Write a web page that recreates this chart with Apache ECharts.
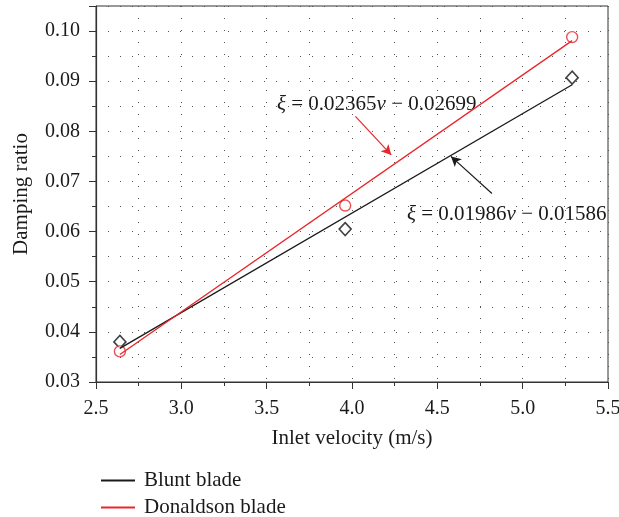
<!DOCTYPE html>
<html>
<head>
<meta charset="utf-8">
<script src="https://cdn.jsdelivr.net/npm/echarts@6/dist/echarts.min.js"></script>
<style>
  html, body { margin: 0; padding: 0; background: #fff; }
  #chart { width: 619px; height: 517px; }
</style>
</head>
<body>
<div id="chart"></div>
<script>
// measured points
var bluntPoints = [[2.64, 0.0380], [3.96, 0.0605], [5.29, 0.0907]];
var donaldsonPoints = [[2.64, 0.0361], [3.96, 0.0652], [5.29, 0.0988]];
// fitted lines, end points
var bluntFit = [[2.64, 0.0367], [5.29, 0.0893]];
var donaldsonFit = [[2.64, 0.0355], [5.29, 0.0981]];
// annotation arrows (start, end) in data units
var redArrow = [[4.02, 0.0830], [4.23, 0.0753]];
var blackArrow = [[4.82, 0.0676], [4.58, 0.0750]];

var serif = '"Liberation Serif", "DejaVu Serif", serif';
var red = '#e8262b';
var dark = '#1a1a1a';

var chart = echarts.init(document.getElementById('chart'));

var dotted = { color: '#555', width: 1, type: [1, 11] };

function legendAt(name, top) {
  return {
    orient: 'horizontal',
    left: 96, top: top,
    itemWidth: 34, itemHeight: 2,
    icon: 'rect',
    data: [name],
    textStyle: { fontFamily: serif, fontSize: 21, color: dark, padding: [0, 0, 0, 4] }
  };
}

var option = {
  animation: false,
  textStyle: { fontFamily: serif },
  grid: {
    left: 96, right: 11, top: 6, bottom: 135,
    outerBoundsMode: 'none',
    show: true, borderColor: '#333', borderWidth: 1
  },
  legend: [
    legendAt('Blunt blade', 465),
    legendAt('Donaldson blade', 492)
  ],
  xAxis: {
    type: 'value',
    min: 2.5, max: 5.5, interval: 0.5,
    name: 'Inlet velocity (m/s)',
    nameLocation: 'middle', nameGap: 46,
    nameTextStyle: { fontFamily: serif, fontSize: 21, color: dark },
    axisLine: { show: true, lineStyle: { color: '#333', width: 1.2 } },
    axisTick: { show: true, inside: false, length: 7, lineStyle: { color: '#333' } },
    minorTick: { show: true, splitNumber: 2, length: 4, lineStyle: { color: '#333' } },
    axisLabel: { fontFamily: serif, fontSize: 20, color: dark, margin: 17,
      formatter: function (v) { return v.toFixed(1); } },
    splitLine: { show: true, lineStyle: dotted },
    minorSplitLine: { show: true, lineStyle: dotted }
  },
  yAxis: {
    type: 'value',
    min: 0.03, max: 0.105, interval: 0.01,
    name: 'Damping ratio',
    nameLocation: 'middle', nameGap: 64,
    nameTextStyle: { fontFamily: serif, fontSize: 21, color: dark },
    axisLine: { show: true, lineStyle: { color: '#333', width: 1.2 } },
    axisTick: { show: true, inside: false, length: 7, lineStyle: { color: '#333' } },
    minorTick: { show: true, splitNumber: 2, length: 4, lineStyle: { color: '#333' } },
    axisLabel: { fontFamily: serif, fontSize: 20, color: dark, margin: 16,
      showMaxLabel: false,
      formatter: function (v) { return v.toFixed(2); } },
    splitLine: { show: true, lineStyle: dotted },
    minorSplitLine: { show: true, lineStyle: dotted }
  },
  series: [
    {
      name: 'Blunt blade', type: 'line', data: bluntFit,
      symbol: 'none', lineStyle: { color: dark, width: 1.3 }, itemStyle: { color: dark },
      markLine: {
        silent: true, symbol: ['none', 'arrow'], symbolSize: [8, 10],
        label: { show: false },
        lineStyle: { color: dark, width: 1.2, type: 'solid' },
        data: [[{ coord: blackArrow[0] }, { coord: blackArrow[1] }]]
      }
    },
    {
      name: 'Donaldson blade', type: 'line', data: donaldsonFit,
      symbol: 'none', lineStyle: { color: red, width: 1.3 }, itemStyle: { color: red },
      markLine: {
        silent: true, symbol: ['none', 'arrow'], symbolSize: [8, 10],
        label: { show: false },
        lineStyle: { color: red, width: 1.2, type: 'solid' },
        data: [[{ coord: redArrow[0] }, { coord: redArrow[1] }]]
      }
    },
    {
      name: 'Blunt points', type: 'scatter', data: bluntPoints,
      symbol: 'diamond', symbolSize: [12, 13],
      itemStyle: { color: '#fff', borderColor: '#111', borderWidth: 1.6 }
    },
    {
      name: 'Donaldson points', type: 'scatter', data: donaldsonPoints,
      symbol: 'circle', symbolSize: 11,
      itemStyle: { color: '#fff', borderColor: red, borderWidth: 1.4 }
    }
  ],
  graphic: [
    {
      type: 'text', left: 277, top: 94,
      style: {
        text: '{i|ξ} = 0.02365{i|ν} − 0.02699',
        font: '21px ' + serif, fill: dark,
        rich: { i: { fontStyle: 'italic', fontSize: 21, fontFamily: serif, fill: dark } }
      }
    },
    {
      type: 'text', left: 407, top: 204,
      style: {
        text: '{i|ξ} = 0.01986{i|ν} − 0.01586',
        font: '21px ' + serif, fill: dark,
        rich: { i: { fontStyle: 'italic', fontSize: 21, fontFamily: serif, fill: dark } }
      }
    }
  ]
};

chart.setOption(option);
</script>
</body>
</html>
